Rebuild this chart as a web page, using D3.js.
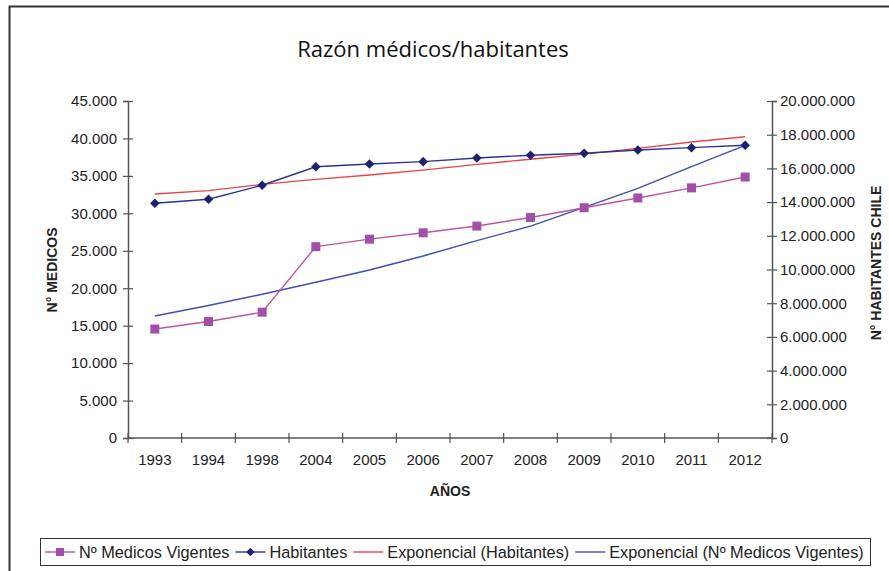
<!DOCTYPE html>
<html lang="es">
<head>
<meta charset="UTF-8">
<title>Razón médicos/habitantes</title>
<script src="https://cdnjs.cloudflare.com/ajax/libs/d3/7.8.5/d3.min.js"></script>
<style>
  body { margin: 0; background: #fff; }
  svg { display: block; }
  text { font-family: "Liberation Sans", Arial, sans-serif; fill: #222; }
</style>
</head>
<body>
<svg id="chart" width="889" height="571"></svg>

<script>
    // categorias (eje X)
    const years = ["1993", "1994", "1998", "2004", "2005", "2006", "2007", "2008", "2009", "2010", "2011", "2012"];

    // Nº medicos vigentes (eje izquierdo)
    const medicos = [14550, 15550, 16800, 25550, 26550, 27400, 28300, 29450, 30750, 32050, 33400, 34850];
    // habitantes (eje derecho)
    const habitantes = [13930000, 14170000, 15000000, 16100000, 16260000, 16400000, 16620000, 16780000, 16900000, 17090000, 17230000, 17370000];

    // lineas de tendencia
    const expMedicos = [16290, 17700, 19200, 20800, 22430, 24300, 26350, 28300, 30800, 33340, 36230, 39080];
    const expHabitantes = [14480000, 14680000, 15050000, 15350000, 15610000, 15900000, 16240000, 16540000, 16850000, 17190000, 17570000, 17880000];

    const leftTicks = d3.range(0, 45001, 5000);
    const rightTicks = d3.range(0, 20000001, 2000000);

    const es = d3.formatLocale({ decimal: ",", thousands: ".", grouping: [3], currency: ["$", ""] });
    const fmt = es.format(",");

    const svg = d3.select("#chart");
    const plotLeft = 128, plotRight = 772, plotTop = 101, plotBottom = 438;

    // marco
    svg.append("path")
        .attr("d", `M9.5,571 V6.5 H889`)
        .attr("fill", "none")
        .attr("stroke", "#333")
        .attr("stroke-width", 2);

    svg.append("text")
        .attr("x", 433).attr("y", 57)
        .attr("text-anchor", "middle")
        .style("font-family", "'Open Sans', 'Noto Sans', sans-serif")
        .style("font-size", "22px")
        .style("fill", "#111")
        .text("Razón médicos/habitantes");

    const x = d3.scaleBand().domain(years).range([plotLeft, plotRight]);
    const yL = d3.scaleLinear().domain([0, 45000]).range([plotBottom, plotTop]);
    const yR = d3.scaleLinear().domain([0, 20000000]).range([plotBottom, plotTop]);
    const cx = d => x(d) + x.bandwidth() / 2;

    const axisColor = "#555";

    // eje izquierdo
    const gL = svg.append("g").attr("transform", `translate(${plotLeft},0)`)
        .call(d3.axisLeft(yL).tickValues(leftTicks).tickFormat(fmt).tickSize(5).tickPadding(6));
    gL.selectAll(".tick line").attr("x1", 5);

    // eje derecho
    const gR = svg.append("g").attr("transform", `translate(${plotRight},0)`)
        .call(d3.axisRight(yR).tickValues(rightTicks).tickFormat(fmt).tickSize(5).tickPadding(3));
    gR.selectAll(".tick line").attr("x1", -5);

    // eje inferior
    const gX = svg.append("g").attr("transform", `translate(0,${plotBottom})`)
        .call(d3.axisBottom(x).tickSize(0).tickPadding(16));
    gX.selectAll(".tick")
        .append("line")
        .attr("x1", -x.bandwidth() / 2).attr("x2", -x.bandwidth() / 2)
        .attr("y1", -5).attr("y2", 5);
    gX.append("line")
        .attr("x1", plotRight).attr("x2", plotRight).attr("y1", -5).attr("y2", 5);

    [gL, gR, gX].forEach(g => {
        g.select(".domain").attr("stroke", axisColor).attr("stroke-width", 1.5);
        g.selectAll("line").attr("stroke", axisColor).attr("stroke-width", 1.2);
        g.selectAll("text")
            .style("font-family", "'Liberation Sans', Arial, sans-serif")
            .style("font-size", "15px")
            .style("fill", "#222");
    });
    gX.select(".domain").attr("d", `M${plotLeft},0H${plotRight}`);

    // titulos de ejes
    svg.append("text")
        .attr("transform", "translate(57,270) rotate(-90)")
        .attr("text-anchor", "middle")
        .style("font-size", "14px").style("font-weight", "bold")
        .text("N° MEDICOS");
    svg.append("text")
        .attr("transform", "translate(881,263) rotate(-90)")
        .attr("text-anchor", "middle")
        .style("font-size", "14px").style("font-weight", "bold")
        .text("N° HABITANTES CHILE");
    svg.append("text")
        .attr("x", 450).attr("y", 496)
        .attr("text-anchor", "middle")
        .style("font-size", "14px").style("font-weight", "bold")
        .text("AÑOS");

    const colMed = "#a24fa8", colMedLine = "#c0549a";
    const colHab = "#1c2270", colHabLine = "#2a3590";
    const colExpHab = "#e8434a", colExpMed = "#3f4fb0";

    const lineL = d3.line().x((d, i) => cx(years[i])).y(d => yL(d));
    const lineR = d3.line().x((d, i) => cx(years[i])).y(d => yR(d));

    svg.append("path").datum(expHabitantes).attr("d", lineR)
        .attr("fill", "none").attr("stroke", colExpHab).attr("stroke-width", 1.4);
    svg.append("path").datum(expMedicos).attr("d", lineL)
        .attr("fill", "none").attr("stroke", colExpMed).attr("stroke-width", 1.4);

    svg.append("path").datum(medicos).attr("d", lineL)
        .attr("fill", "none").attr("stroke", colMedLine).attr("stroke-width", 1.4);
    svg.append("path").datum(habitantes).attr("d", lineR)
        .attr("fill", "none").attr("stroke", colHabLine).attr("stroke-width", 1.4);

    svg.append("g").selectAll("rect")
        .data(medicos).join("rect")
        .attr("x", (d, i) => cx(years[i]) - 4.5)
        .attr("y", d => yL(d) - 4.5)
        .attr("width", 9).attr("height", 9)
        .attr("fill", colMed);

    // rombo = cuadrado girado 45 grados
    const diamond = d3.symbol().type(d3.symbolSquare).size(46);
    svg.append("g").selectAll("path")
        .data(habitantes).join("path")
        .attr("transform", (d, i) => `translate(${cx(years[i])},${yR(d)}) rotate(45)`)
        .attr("d", diamond)
        .attr("fill", colHab);

    // leyenda
    const legendItems = [
        { label: "Nº Medicos Vigentes", color: colMedLine, mark: "square" },
        { label: "Habitantes", color: colHabLine, mark: "diamond" },
        { label: "Exponencial (Habitantes)", color: colExpHab, mark: null },
        { label: "Exponencial (Nº Medicos Vigentes)", color: colExpMed, mark: null }
    ];

    const legend = svg.append("g");
    legend.append("rect")
        .attr("x", 40.5).attr("y", 538.5)
        .attr("width", 830).attr("height", 27)
        .attr("fill", "#fff").attr("stroke", "#333").attr("stroke-width", 1);

    let lx = 45;
    const ly = 552;
    legendItems.forEach(item => {
        legend.append("line")
            .attr("x1", lx).attr("x2", lx + 30)
            .attr("y1", ly).attr("y2", ly)
            .attr("stroke", item.color).attr("stroke-width", 1.4);
        if (item.mark === "square") {
            legend.append("rect")
                .attr("x", lx + 11).attr("y", ly - 4)
                .attr("width", 8).attr("height", 8)
                .attr("fill", colMed);
        } else if (item.mark === "diamond") {
            legend.append("path")
                .attr("transform", `translate(${lx + 15},${ly}) rotate(45)`)
                .attr("d", d3.symbol().type(d3.symbolSquare).size(36))
                .attr("fill", colHab);
        }
        const t = legend.append("text")
            .attr("x", lx + 34).attr("y", ly + 5.5)
            .style("font-size", "16.3px")
            .text(item.label);
        lx += 34 + t.node().getComputedTextLength() + 6;
    });
</script>
</body>
</html>
